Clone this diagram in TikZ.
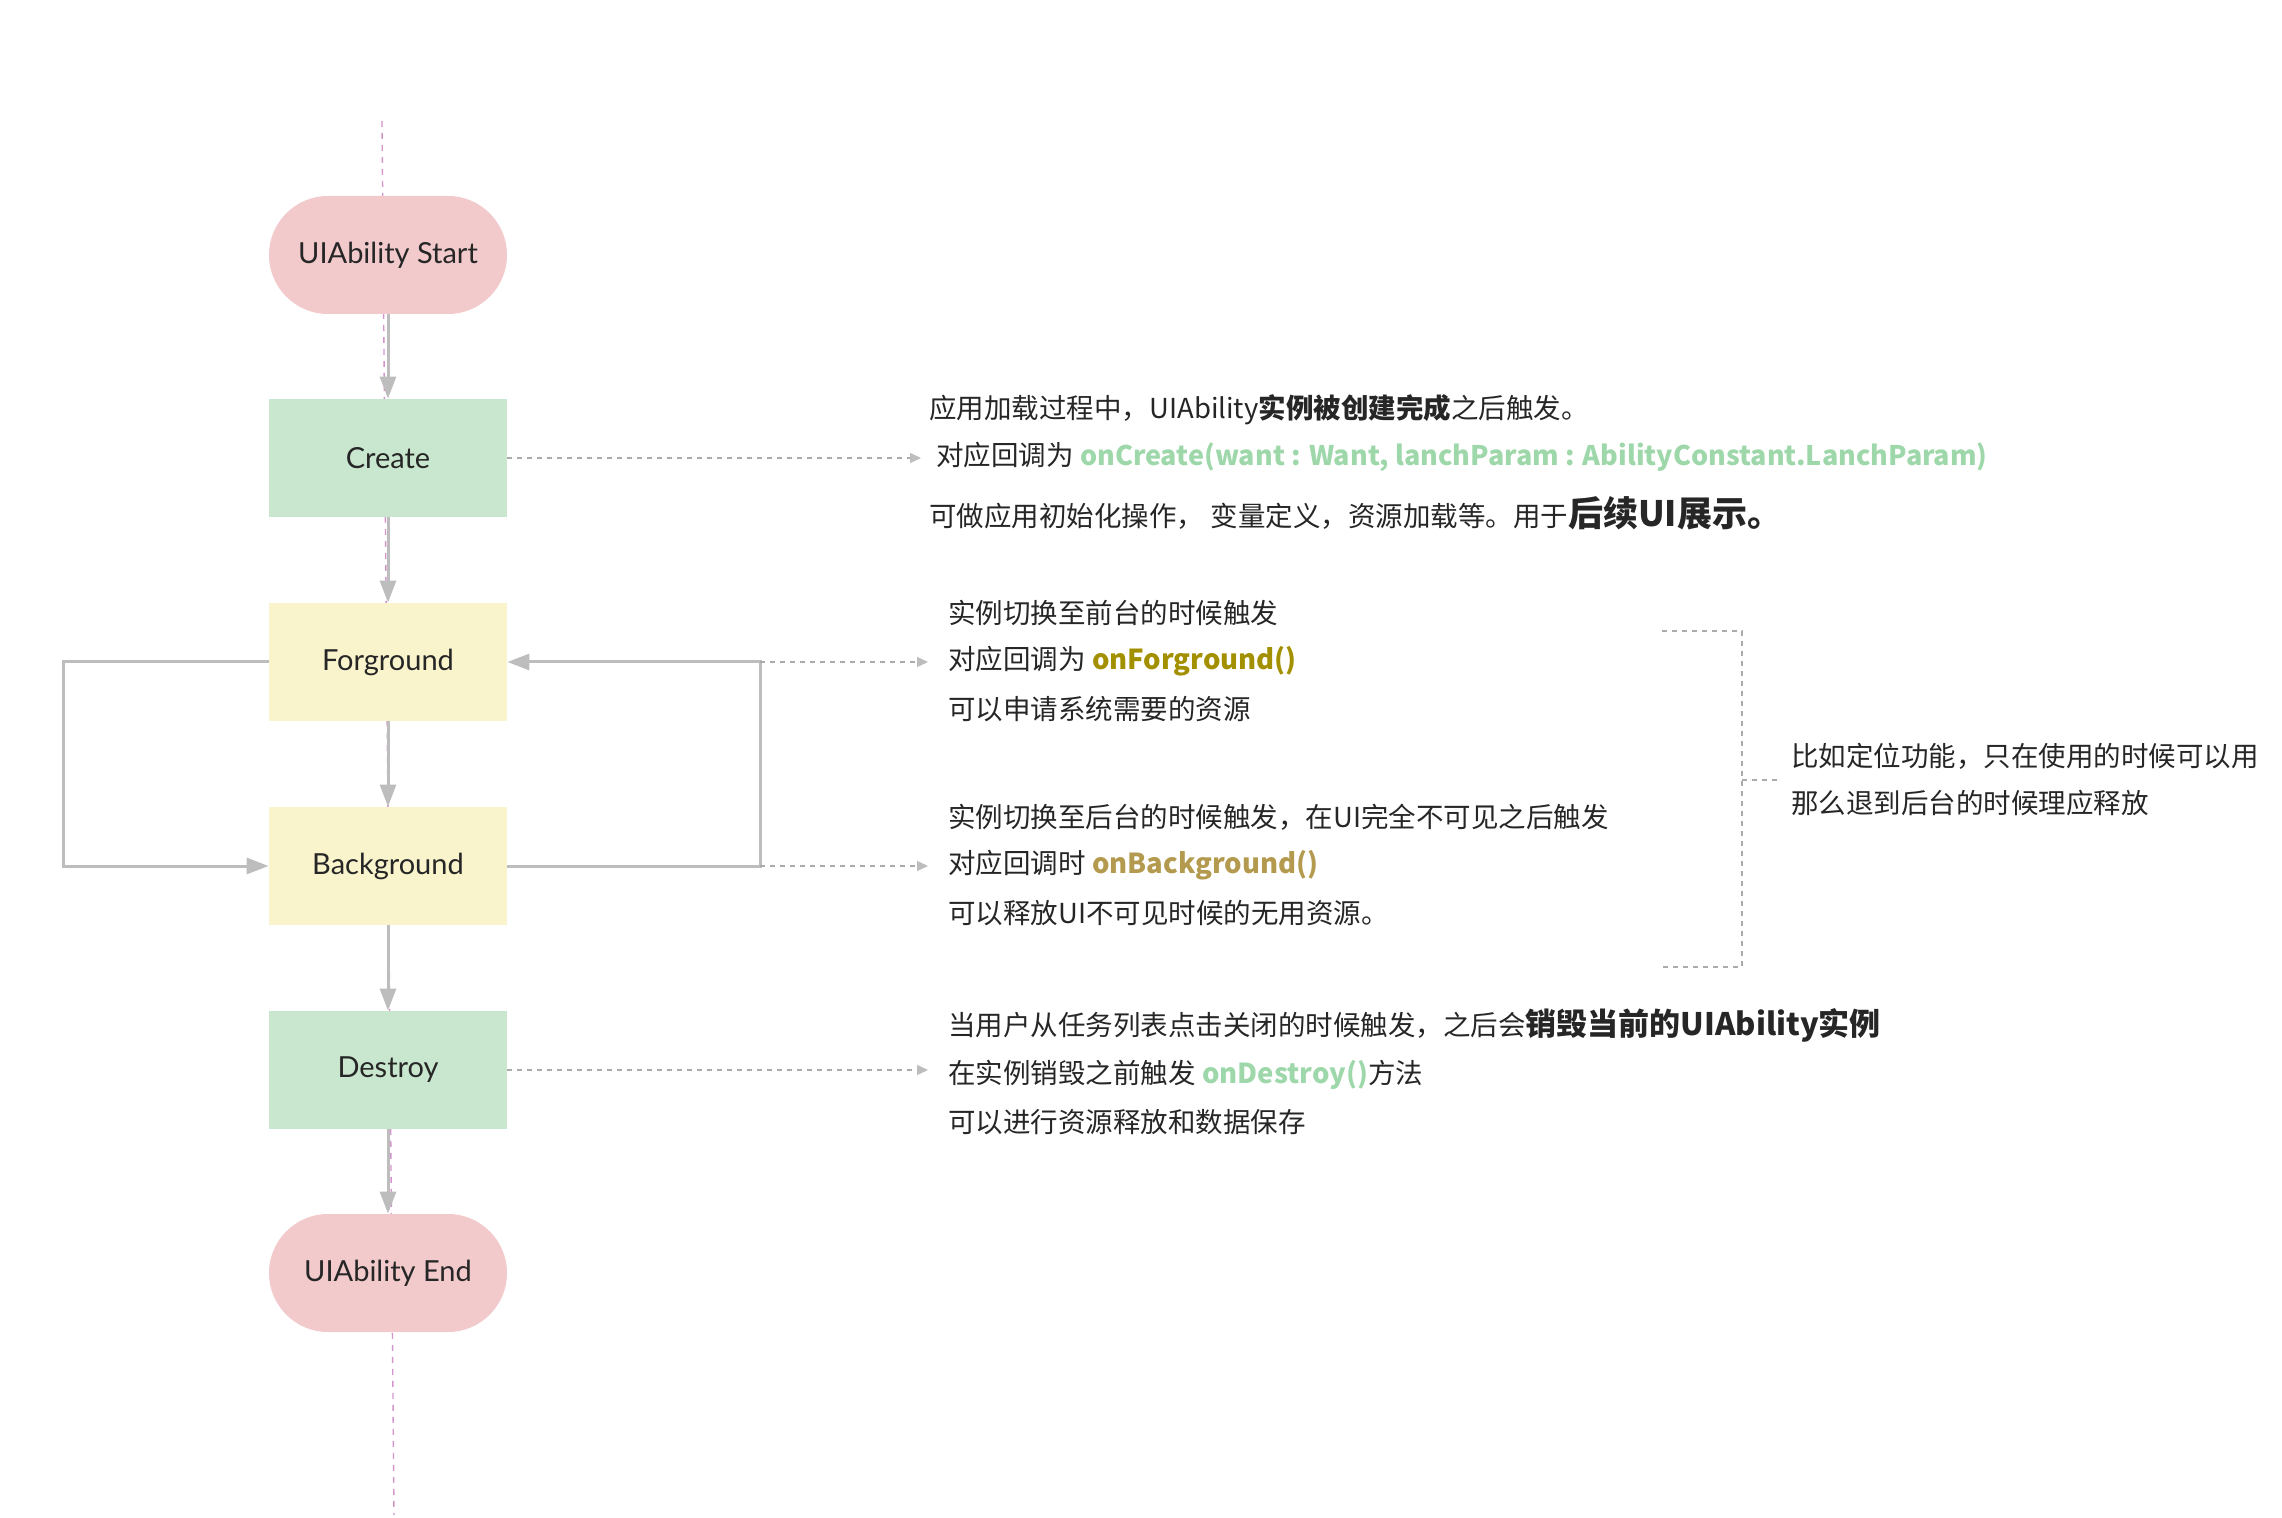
\documentclass[tikz,border=0pt]{standalone}
\usepackage{fontspec}
\setmainfont{Noto Sans CJK SC}
\newfontfamily\lab{Lato}
\usetikzlibrary{arrows.meta}
\definecolor{pinkfill}{HTML}{F2CACC}
\definecolor{greenfill}{HTML}{C9E7CF}
\definecolor{yellowfill}{HTML}{FAF4CD}
\definecolor{arrowgray}{HTML}{BDBDBD}
\definecolor{dotgray}{HTML}{ABABAB}
\definecolor{guide}{HTML}{D495CC}
\definecolor{txt}{HTML}{262626}
\definecolor{cbgreen}{HTML}{9ED8AA}
\definecolor{cbolive}{HTML}{A39000}
\definecolor{cbgold}{HTML}{B39A4E}
\begin{document}
\begin{tikzpicture}[x=0.5pt,y=-0.5pt,
  box/.style={rectangle, minimum width=119pt, minimum height=59pt, inner sep=0pt,
    font=\lab\fontsize{14.5}{16}\selectfont, text=txt},
  pill/.style={box, fill=pinkfill, rounded corners=29.5pt},
  gbox/.style={box, fill=greenfill},
  ybox/.style={box, fill=yellowfill},
  flow/.style={draw=arrowgray, line width=1.5pt, -{Triangle[length=11pt,width=8pt]}},
  note/.style={draw=dotgray, line width=0.7pt, dash pattern=on 2.5pt off 2.5pt,
    -{Triangle[length=5.5pt,width=5pt,color=arrowgray]}},
  bracket/.style={draw=dotgray, line width=0.7pt, dash pattern=on 2.5pt off 2.5pt},
  tx/.style={anchor=west, inner sep=0pt, text=txt, font=\fontsize{13.75}{16}\selectfont}]
\useasboundingbox (0,0) rectangle (2282,1518);
% guide line
\coordinate (gtop) at (382,121);
\coordinate (gbot) at (394,1515);
\draw[guide, line width=0.7pt, dash pattern=on 3pt off 3pt] (gtop) -- (gbot);
% nodes
\node[pill] (start) at (388,255) {UIAbility Start};
\node[gbox] (create) at (388,458) {Create};
\node[ybox] (fg) at (388,662) {Forground};
\node[ybox] (bg) at (388,866) {Background};
\node[gbox] (destroy) at (388,1070) {Destroy};
\node[pill] (end) at (388,1273) {UIAbility End};
% flow
\draw[flow] (start) -- (create);
\draw[flow] (create) -- (fg);
\draw[flow] (fg) -- (bg);
\draw[flow] (bg) -- (destroy);
\draw[flow] (destroy) -- (end);
\coordinate (lfg) at (63,662);
\coordinate (lbg) at (63,866);
\coordinate (rfg) at (760,662);
\coordinate (rbg) at (760,866);
\draw[flow] (fg.west) -- (lfg) -- (lbg) -- (bg.west);
\draw[flow] (bg.east) -- (rbg) -- (rfg) -- (fg.east);
% dotted connectors
\coordinate (ce) at (921,458);
\coordinate (fe) at (928,662);
\coordinate (be) at (928,866);
\coordinate (de) at (928,1070);
\draw[note] (create.east) -- (ce);
\draw[note] (rfg) -- (fe);
\draw[note] (rbg) -- (be);
\draw[note] (destroy.east) -- (de);
% create text
\node[tx] (c1) at (929,410) {应用加载过程中，UIAbility\textbf{实例被创建完成}之后触发。};
\node[tx] (c2) at (936,457) {对应回调为 {\bfseries\color{cbgreen}\fontsize{13.5}{16}\selectfont onCreate(want : Want, lanchParam : AbilityConstant.LanchParam)}};
\node[tx] (c3) at (929,513) {可做应用初始化操作，\ 变量定义，资源加载等。用于{\bfseries\fontsize{17.5}{18}\selectfont 后续UI展示。}};
% foreground text
\node[tx] (f1) at (948,613) {实例切换至前台的时候触发};
\node[tx] (f2) at (948,661) {对应回调为 {\bfseries\color{cbolive}onForground()}};
\node[tx] (f3) at (948,709) {可以申请系统需要的资源};
% background text
\node[tx] (b1) at (948,817) {实例切换至后台的时候触发，在UI完全不可见之后触发};
\node[tx] (b2) at (948,865) {对应回调时 {\bfseries\color{cbgold}onBackground()}};
\node[tx] (b3) at (948,913) {可以释放UI不可见时候的无用资源。};
% destroy text
\node[tx] (d1) at (948,1025) {当用户从任务列表点击关闭的时候触发，之后会{\bfseries\fontsize{15.5}{17}\selectfont 销毁当前的UIAbility实例}};
\node[tx] (d2) at (948,1075) {在实例销毁之前触发 {\bfseries\color{cbgreen}onDestroy()}方法};
\node[tx] (d3) at (948,1122) {可以进行资源释放和数据保存};
% bracket
\coordinate (k1) at (1662,631);
\coordinate (k2) at (1742,631);
\coordinate (k3) at (1742,967);
\coordinate (k4) at (1662,967);
\coordinate (km) at (1742,780);
\coordinate (kt) at (1781,780);
\draw[bracket] (k1) -- (k2) -- (k3) -- (k4);
\draw[bracket] (km) -- (kt);
\node[tx] (r1) at (1791,756) {比如定位功能，只在使用的时候可以用};
\node[tx] (r2) at (1791,803) {那么退到后台的时候理应释放};
\end{tikzpicture}
\end{document}
